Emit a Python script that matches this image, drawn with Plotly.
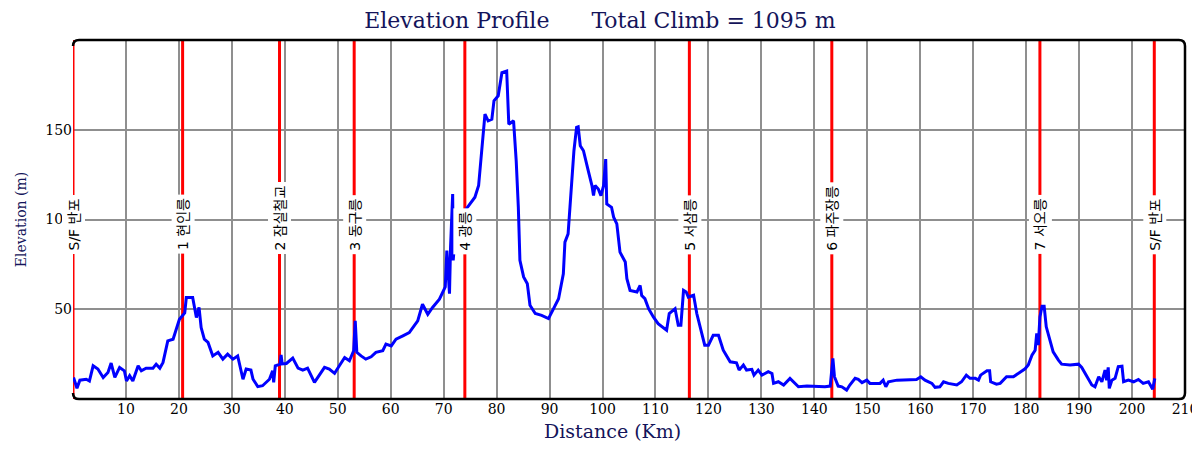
import plotly.graph_objects as go

# ---- data ----
dist_km = [
    0.1, 0.75, 1.3, 2.5, 3.1, 3.8, 4.7, 5.7, 6.6, 7.2,
    7.9, 8.8, 9.7, 10.1, 10.7, 11.3, 12.3, 12.9, 13.8, 15.1,
    15.7, 16.4, 17.0, 17.9, 18.9, 20.1, 21.1, 21.4, 22.6, 23.3,
    23.8, 24.2, 24.8, 25.5, 26.4, 27.4, 28.3, 29.2, 30.2, 31.1,
    32.1, 32.7, 33.6, 34.0, 34.9, 35.8, 37.1, 37.7, 37.9, 38.2,
    39.1, 39.3, 39.5, 40.3, 41.5, 42.5, 43.4, 44.3, 45.6, 46.5,
    47.5, 48.4, 49.4, 50.3, 51.3, 52.2, 53.0, 53.3, 53.6, 54.4,
    55.3, 56.3, 57.2, 58.5, 59.1, 60.1, 61.0, 62.3, 63.5, 65.1,
    66.0, 67.0, 67.9, 69.2, 70.3, 70.6, 71.1, 71.3, 71.7, 71.8,
    72.1, 72.8, 73.5, 74.3, 75.0, 75.9, 76.6, 77.2, 77.8, 78.4,
    79.1, 79.5, 80.3, 81.0, 81.9, 82.3, 83.2, 83.7, 84.1, 84.4,
    85.1, 85.8, 86.3, 87.3, 88.5, 89.8, 90.7, 91.7, 92.6, 92.9,
    93.5, 94.2, 94.6, 95.1, 95.4, 95.8, 96.4, 97.3, 98.0, 98.3,
    98.6, 99.2, 99.7, 100.2, 100.6, 100.8, 101.7, 102.1, 102.7, 103.3,
    104.3, 104.6, 105.2, 106.5, 107.1, 107.4, 108.0, 108.7, 109.6, 110.5,
    112.1, 112.6, 113.7, 114.3, 114.8, 115.3, 115.8, 116.2, 117.2, 117.8,
    118.4, 119.3, 120.0, 120.9, 121.9, 122.8, 124.1, 125.3, 125.8, 126.6,
    127.2, 128.2, 128.6, 129.4, 130.1, 131.3, 132.0, 132.3, 133.2, 134.2,
    135.4, 136.1, 137.0, 138.6, 140.5, 142.0, 143.0, 143.5, 143.8, 144.5,
    145.2, 146.1, 146.7, 147.7, 148.3, 149.0, 149.9, 150.5, 152.4, 153.0,
    153.5, 154.0, 155.6, 157.5, 159.3, 160.1, 160.9, 162.2, 162.8, 163.7,
    164.4, 165.3, 166.9, 167.8, 168.7, 169.4, 170.4, 171.0, 171.4, 172.6,
    173.1, 173.3, 174.4, 175.1, 176.3, 177.6, 178.5, 179.8, 180.4, 181.1,
    181.7, 182.0, 182.3, 182.6, 183.0, 183.4, 183.8, 184.5, 185.1, 186.1,
    186.7, 188.3, 189.9, 190.5, 191.4, 192.4, 193.0, 193.7, 194.3, 194.9,
    195.2, 195.5, 195.7, 196.2, 196.8, 197.4, 198.1, 198.4, 199.3, 200.3,
    201.2, 202.1, 203.1, 203.9, 204.3,
]
elev_m = [
    12, 6, 10.5, 11, 10, 18.5, 16.7, 12, 14.8, 20,
    12, 17.6, 15.7, 10, 13, 10, 18.5, 15.7, 17.2, 17.2,
    19.4, 17.2, 20.4, 32.4, 33.3, 44.4, 48, 56.5, 56.5, 45.4,
    51, 39.8, 33.3, 31.5, 24, 26, 22.2, 25, 22.2, 24,
    11, 16.7, 16.1, 11, 6.9, 7.4, 11, 15.7, 9.3, 18.5,
    19.4, 24.6, 19.6, 19.8, 22.8, 17.2, 16.1, 17.2, 9.3, 13,
    17.6, 16.7, 14.3, 18.5, 23.1, 21.3, 26.9, 43.5, 26, 24,
    22.2, 23.5, 26, 26.9, 30.6, 29.6, 33.3, 35.2, 37, 43.5,
    52.8, 47.2, 51, 55.6, 62.4, 82.7, 58.7, 84.6, 114.2, 77.2,
    88.3, 92, 100, 106, 108.7, 112.4, 118.9, 139.2, 158.7, 155,
    155.9, 166.1, 168.9, 181.8, 182.7, 153.1, 155, 132.7, 106.8, 77.2,
    68, 64.2, 52.2, 47.6, 46.6, 44.8, 50.3, 55.9, 69.8, 87.4,
    92, 125.3, 138.3, 151.3, 151.6, 141.1, 138.3, 127.2, 118.9, 113.3,
    118.9, 117, 113.3, 118.9, 133.7, 108.7, 106.8, 101.3, 97.6, 81.8,
    76.3, 67, 60.5, 59.6, 63.3, 57.7, 55.9, 50.3, 45.7, 42,
    38.3, 47.6, 50.3, 41.1, 41.1, 60.5, 59.6, 56.8, 57.8, 47.6,
    40.2, 30, 30, 35.5, 35.5, 27.2, 20.7, 20.2, 16.1, 18.9,
    16.1, 16.5, 13.3, 16.1, 13.3, 15.2, 14.2, 8.7, 9.6, 7.8,
    11.5, 9.6, 6.8, 7.2, 6.8, 6.8, 7.2, 22.6, 12.4, 7.2,
    6.8, 5, 7.8, 11.5, 10.9, 9.1, 10.5, 8.7, 8.7, 10.5,
    6.8, 9.6, 10.5, 10.9, 10.9, 12.4, 10.5, 8.7, 6.5, 6.8,
    9.6, 8.7, 7.8, 9.6, 13.3, 11.5, 11.5, 10.5, 13.3, 15.7,
    15.7, 9.6, 8.3, 8.7, 12.4, 12.4, 14.2, 16.8, 18.9, 24.4,
    27.2, 36.5, 30, 45.7, 51.7, 51.7, 40.2, 32.8, 26.3, 21.7,
    19.4, 18.9, 19.4, 17.6, 13.3, 7.8, 6.8, 12.4, 9.6, 16.1,
    10.5, 17.6, 5.9, 10.5, 11.5, 18, 18.3, 9.6, 10.5, 9.6,
    10.9, 8.7, 9.6, 5.5, 11.5,
]
assert len(dist_km) == len(elev_m)

checkpoint_km = [0, 20.7, 39.0, 53.1, 74.0, 116.4, 143.3, 182.6, 204.2]
checkpoint_names = ["S/F 반포", "1 현인릉", "2 잠실철교", "3 동구릉", "4 광릉",
                    "5 서삼릉", "6 파주장릉", "7 서오릉", "S/F 반포"]
x_ticks = list(range(10, 211, 10))
y_ticks = [50, 100, 150]
x_range = [0, 210]
y_range = [0, 200]
title_text = "Elevation Profile      Total Climb = 1095 m"
x_title = "Distance (Km)"
y_title = "Elevation (m)"

SERIF = "DejaVu Serif, Liberation Serif, serif"
SANS = "DejaVu Sans, Noto Sans CJK KR, sans-serif"
NAVY = "#14145a"

fig = go.Figure()

# red checkpoint lines (under the profile)
vx, vy = [], []
for k in checkpoint_km:
    vx += [k, k, None]
    vy += [y_range[0], y_range[1], None]
fig.add_trace(go.Scatter(x=vx, y=vy, mode="lines",
                         line=dict(color="#ff0000", width=3),
                         hoverinfo="skip", showlegend=False))

# elevation profile
fig.add_trace(go.Scatter(x=dist_km, y=elev_m, mode="lines",
                         line=dict(color="#0000ff", width=3),
                         showlegend=False))

# checkpoint labels
for k, name in zip(checkpoint_km, checkpoint_names):
    fig.add_annotation(x=k, y=80.5, xref="x", yref="y", text=name,
                       textangle=-90, showarrow=False,
                       xanchor="center", yanchor="bottom",
                       bgcolor="white", borderpad=3,
                       font=dict(family=SANS, size=14, color="black"))

# x-axis title (sits slightly left of the plot centre in the reference)
fig.add_annotation(x=0.4856, y=-0.089, xref="paper", yref="paper",
                   text=x_title, showarrow=False,
                   xanchor="center", yanchor="middle",
                   font=dict(family=SERIF, size=19, color=NAVY))

# frame (top, right, bottom with rounded corners)
rx, ry = 0.0055, 0.017
frame_path = (f"M 0,{1-ry} Q 0,1 {rx},1 L {1-rx},1 Q 1,1 1,{1-ry} "
              f"L 1,{ry} Q 1,0 {1-rx},0 L {rx},0 Q 0,0 0,{ry}")
fig.add_shape(type="path", path=frame_path, xref="paper", yref="paper",
              line=dict(color="black", width=2.5), layer="above")

# the page body adds an 8px offset; margins compensate for it
fig.update_layout(
    width=1200, height=450,
    margin=dict(l=65, r=23, t=32, b=59, autoexpand=False),
    paper_bgcolor="white", plot_bgcolor="white",
    title=dict(text=title_text, x=0.4933, xref="container", xanchor="center",
               y=0.9733, yref="container", yanchor="middle",
               font=dict(family=SERIF, size=22, color=NAVY)),
    xaxis=dict(range=x_range, tickvals=x_ticks, showgrid=True,
               gridcolor="#8f8f8f", gridwidth=1.5, zeroline=False,
               showline=False, ticks="", automargin=False,
               tickfont=dict(family=SERIF, size=14, color="black")),
    yaxis=dict(range=y_range, tickvals=y_ticks, showgrid=True,
               gridcolor="#8f8f8f", gridwidth=1.5, zeroline=False,
               showline=False, ticks="", automargin=False,
               tickfont=dict(family=SERIF, size=14, color="black"),
               title=dict(text=y_title, standoff=15,
                          font=dict(family=SERIF, size=14, color=NAVY))),
)

fig.write_html("out.html")
